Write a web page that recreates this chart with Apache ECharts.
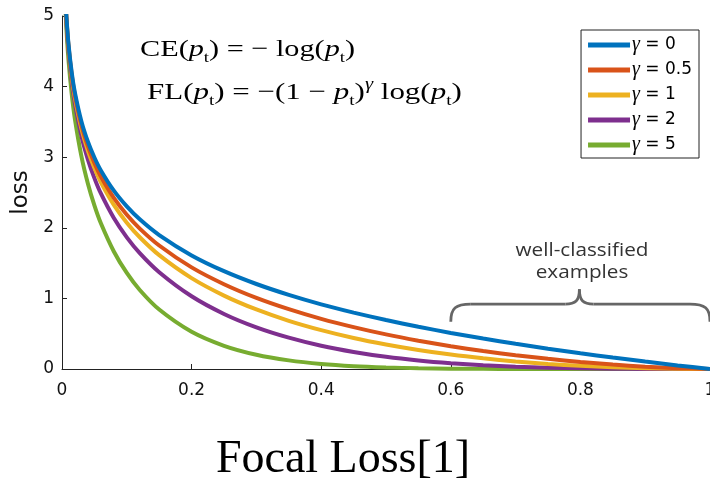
<!DOCTYPE html>
<html>
<head>
<meta charset="utf-8">
<script src="https://cdn.jsdelivr.net/npm/echarts@6/dist/echarts.min.js"></script>
<style>
  html, body { margin: 0; padding: 0; background: #fff; }
  #chart { width: 710px; height: 483px; }
</style>
</head>
<body>
<div id="chart"></div>
<script>
// p_t sample points and loss
const pt = [0.005, 0.0067, 0.01, 0.015, 0.02, 0.03, 0.04, 0.05, 0.06, 0.08, 0.1, 0.12, 0.15,
  0.2, 0.25, 0.3, 0.35, 0.4, 0.45, 0.5, 0.55, 0.6, 0.65, 0.7, 0.75, 0.8, 0.85, 0.9, 0.95, 1.0];

const gammas = ["0", "0.5", "1", "2", "5"];

const loss0 = [5.298, 5.006, 4.605, 4.2, 3.912, 3.507, 3.219, 2.996, 2.813, 2.526, 2.303, 2.12, 1.897,
  1.609, 1.386, 1.204, 1.05, 0.916, 0.799, 0.693, 0.598, 0.511, 0.431, 0.357, 0.288, 0.223, 0.163, 0.105, 0.051, 0];
const loss05 = [5.285, 4.989, 4.582, 4.168, 3.873, 3.454, 3.154, 2.92, 2.727, 2.423, 2.184, 1.989, 1.749,
  1.439, 1.201, 1.007, 0.847, 0.71, 0.593, 0.49, 0.401, 0.323, 0.255, 0.195, 0.144, 0.1, 0.063, 0.033, 0.012, 0];
const loss1 = [5.272, 4.972, 4.559, 4.137, 3.834, 3.402, 3.09, 2.846, 2.644, 2.324, 2.072, 1.866, 1.612,
  1.287, 1.04, 0.843, 0.682, 0.55, 0.439, 0.347, 0.269, 0.204, 0.151, 0.107, 0.072, 0.045, 0.024, 0.011, 0.003, 0];
const loss2 = [5.245, 4.939, 4.513, 4.075, 3.757, 3.3, 2.966, 2.704, 2.486, 2.138, 1.865, 1.642, 1.371,
  1.03, 0.78, 0.59, 0.444, 0.33, 0.242, 0.173, 0.121, 0.082, 0.053, 0.032, 0.018, 0.009, 0.004, 0.001, 0, 0];
const loss5 = [5.167, 4.84, 4.379, 3.894, 3.536, 3.012, 2.625, 2.318, 2.064, 1.665, 1.36, 1.119, 0.842,
  0.527, 0.329, 0.202, 0.122, 0.071, 0.04, 0.022, 0.011, 0.005, 0.002, 0.001, 0, 0, 0, 0, 0, 0];

const lossSets = [loss0, loss05, loss1, loss2, loss5];
const colors = ["#0072BD", "#D95319", "#EDB120", "#7E2F8E", "#77AC30"];

const yTicks = [0, 1, 2, 3, 4, 5];

const myChart = echarts.init(document.getElementById("chart"));

const serif = "Liberation Serif";
const sans = "DejaVu Sans";

const mathRich = {
  r: { fontFamily: serif, fontSize: 24, color: "#000", lineHeight: 32 },
  i: { fontFamily: serif, fontSize: 24, fontStyle: "italic", color: "#000", lineHeight: 32 },
  s: { fontFamily: serif, fontSize: 15, color: "#000", lineHeight: 18, verticalAlign: "bottom" },
  g: { fontFamily: serif, fontSize: 16, fontStyle: "italic", color: "#000", lineHeight: 12, verticalAlign: "top" }
};

const option = {
  animation: false,
  backgroundColor: "#fff",
  grid: { left: 62, top: 16, width: 648, height: 353, containLabel: false, outerBoundsMode: "none" },
  xAxis: {
    type: "value",
    min: 0,
    max: 1,
    interval: 0.2,
    axisLine: { lineStyle: { color: "#222", width: 1 } },
    axisTick: { inside: true, length: 5, lineStyle: { color: "#222" } },
    axisLabel: { color: "#111", fontFamily: sans, fontSize: 17, margin: 13 },
    splitLine: { show: false }
  },
  yAxis: {
    type: "value",
    min: yTicks[0],
    max: yTicks[yTicks.length - 1],
    interval: 1,
    name: "loss",
    nameLocation: "middle",
    nameGap: 21,
    nameTextStyle: { color: "#111", fontFamily: sans, fontSize: 23 },
    axisLine: { show: true, lineStyle: { color: "#222", width: 1 } },
    axisTick: { show: true, inside: true, length: 5, lineStyle: { color: "#222" } },
    axisLabel: { color: "#111", fontFamily: sans, fontSize: 17, margin: 8 },
    splitLine: { show: false }
  },
  legend: {
    orient: "vertical",
    right: 11,
    top: 30,
    padding: [5, 7, 3, 7],
    itemWidth: 42,
    itemHeight: 5,
    itemGap: 5,
    icon: "rect",
    borderColor: "#222",
    borderWidth: 1,
    backgroundColor: "#fff",
    data: gammas.map(g => "γ" + g),
    formatter: name => "{g|γ} = " + name.slice(1),
    textStyle: {
      fontFamily: sans, fontSize: 17, color: "#000", padding: [0, 0, 0, -3],
      rich: { g: { fontFamily: serif, fontStyle: "italic", fontSize: 20, color: "#000" } }
    }
  },
  series: lossSets.map((vals, k) => ({
    name: "γ" + gammas[k],
    type: "line",
    data: pt.map((p, i) => [p, vals[i]]),
    showSymbol: false,
    symbol: "none",
    smooth: 0.25,
    clip: true,
    z: 10 - k,
    lineStyle: { color: colors[k], width: 4 },
    itemStyle: { color: colors[k] }
  })).reverse(),
  graphic: [
    {
      type: "text", x: 140, y: 50, scaleX: 1.26,
      style: {
        text: "{r|CE(}{i|p}{s|t}{r|) = − log(}{i|p}{s|t}{r|)}",
        rich: mathRich, verticalAlign: "middle"
      }
    },
    {
      type: "text", x: 147, y: 93, scaleX: 1.29,
      style: {
        text: "{r|FL(}{i|p}{s|t}{r|) = −(1 − }{i|p}{s|t}{r|)}{g|γ}{r| log(}{i|p}{s|t}{r|)}",
        rich: mathRich, verticalAlign: "middle"
      }
    },
    {
      type: "text", x: 582, y: 262, scaleX: 1.09,
      style: {
        text: "well-classified\nexamples", fontFamily: "Open Sans", fontSize: 19,
        fill: "#333", align: "center", verticalAlign: "middle", lineHeight: 22
      }
    },
    {
      type: "text", x: 343, y: 460,
      style: {
        text: "Focal Loss[1]", fontFamily: serif, fontSize: 46,
        fill: "#000", align: "center", verticalAlign: "middle"
      }
    }
  ]
};

myChart.setOption(option);

// curly brace over the well-classified region (0.6 .. 1.0)
const a = myChart.convertToPixel({ gridIndex: 0 }, [0.6, 0.67]);
const b = myChart.convertToPixel({ gridIndex: 0 }, [1.0, 0.92]);
const peakY = myChart.convertToPixel({ gridIndex: 0 }, [0.8, 1.13])[1];
const x0 = a[0], x1 = b[0], yTip = a[1], yMid = b[1];
const xc = (x0 + x1) / 2 - 1;
const braceStyle = { stroke: "#666", lineWidth: 2.8, fill: null };
const brace = [
  { type: "bezierCurve", shape: { x1: x0, y1: yTip, cpx1: x0, cpy1: yMid + 4, cpx2: x0 + 5, cpy2: yMid, x2: x0 + 20, y2: yMid } },
  { type: "line", shape: { x1: x0 + 20, y1: yMid, x2: xc - 14, y2: yMid } },
  { type: "bezierCurve", shape: { x1: xc - 14, y1: yMid, cpx1: xc - 4, cpy1: yMid, cpx2: xc, cpy2: yMid - 3, x2: xc, y2: peakY } },
  { type: "bezierCurve", shape: { x1: xc, y1: peakY, cpx1: xc, cpy1: yMid - 3, cpx2: xc + 4, cpy2: yMid, x2: xc + 14, y2: yMid } },
  { type: "line", shape: { x1: xc + 14, y1: yMid, x2: x1 - 20, y2: yMid } },
  { type: "bezierCurve", shape: { x1: x1 - 20, y1: yMid, cpx1: x1 - 5, cpy1: yMid, cpx2: x1, cpy2: yMid + 4, x2: x1, y2: yTip } }
].map(el => Object.assign(el, { style: braceStyle, z: 20 }));

myChart.setOption({ graphic: option.graphic.concat(brace) });
</script>
</body>
</html>
